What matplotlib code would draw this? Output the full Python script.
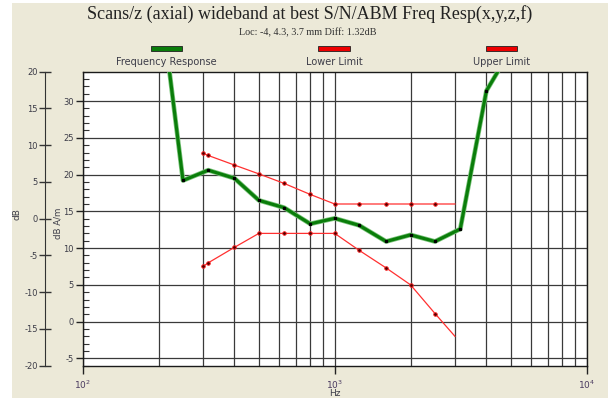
import matplotlib
matplotlib.use("Agg")
import matplotlib.pyplot as plt
from matplotlib.patches import Rectangle
from matplotlib.ticker import MultipleLocator, FixedLocator, LogFormatterMathtext, NullFormatter

plt.rcParams["axes.unicode_minus"] = False

# Frequency response (dB A/m) at third-octave centres
resp_freq = [200, 250, 315, 400, 500, 630, 800, 1000, 1250, 1600, 2000, 2500, 3150, 4000, 5000]
resp_val = [46.0, 19.2, 20.6, 19.5, 16.5, 15.5, 13.3, 14.05, 13.1, 10.9, 11.8, 10.9, 12.6, 31.4, 37.0]

# Limit curves
limit_freq = [300, 315, 400, 500, 630, 800, 1000, 1250, 1600, 2000, 2500, 3000]
upper_val = [22.9, 22.6, 21.3, 20.1, 18.8, 17.3, 16.0, 16.0, 16.0, 16.0, 16.0, 16.0]
lower_val = [7.5, 8.0, 10.1, 12.0, 12.0, 12.0, 12.0, 9.7, 7.3, 5.0, 1.1, -2.0]

legend_names = ["Frequency Response", "Lower Limit", "Upper Limit"]
legend_colors = ["#0a7d0a", "#ee0000", "#ee0000"]

W, H = 611, 401
BEIGE = "#ECE9D8"
TXT = "#3c3c48"

fig = plt.figure(figsize=(W / 100, H / 100), dpi=100, facecolor="white")
fig.add_artist(Rectangle((12 / W, 1 - 398 / H), 596 / W, 395 / H,
                         transform=fig.transFigure, facecolor=BEIGE,
                         edgecolor="none", zorder=-10))

ax = fig.add_axes([82.7 / W, 1 - 365.7 / H, 504 / W, 294 / H])
ax.set_facecolor("white")

ax.plot(limit_freq, upper_val, color="#ff3030", lw=0.9, zorder=3,
        marker="o", ms=2.6, mfc="#500000", mec="#ff2020", mew=0.6,
        markevery=list(range(len(limit_freq) - 1)))
ax.plot(limit_freq, lower_val, color="#ff3030", lw=0.9, zorder=3,
        marker="o", ms=2.6, mfc="#500000", mec="#ff2020", mew=0.6,
        markevery=list(range(len(limit_freq) - 1)))
ax.plot(resp_freq, resp_val, color="#7cc47c", lw=3.4, zorder=4, solid_joinstyle="round")
ax.plot(resp_freq, resp_val, color="#0a7d0a", lw=2.3, zorder=5,
        marker="s", ms=1.4, mfc="black", mec="black", solid_joinstyle="round")

ax.set_xscale("log")
ax.set_xlim(100, 10000)
ax.set_ylim(-6, 34)

ax.xaxis.set_major_locator(FixedLocator([100, 1000, 10000]))
ax.xaxis.set_major_formatter(LogFormatterMathtext())
ax.xaxis.set_minor_formatter(NullFormatter())
ax.yaxis.set_major_locator(MultipleLocator(5))
ax.yaxis.set_minor_locator(MultipleLocator(1))
ax.set_yticks(range(-5, 31, 5))

ax.grid(which="both", axis="x", color="#3a3a3a", lw=0.9)
ax.grid(which="major", axis="y", color="#3a3a3a", lw=0.9)

ax.tick_params(axis="y", which="major", direction="out", length=5, width=1,
               pad=1.5, labelsize=6, labelcolor=TXT, color="#222222")
ax.tick_params(axis="y", which="minor", direction="in", length=4.5, width=0.8,
               color="#333333")
ax.tick_params(axis="x", which="major", direction="out", length=6, width=1,
               pad=3, labelsize=6.5, labelcolor="#4a3a60", color="#222222")
ax.tick_params(axis="x", which="minor", length=0)
for s in ax.spines.values():
    s.set_color("#1a1a1a")
    s.set_linewidth(1)

# outer dB scale
ax2 = ax.twinx()
ax2.set_ylim(-20, 20)
ax2.yaxis.tick_left()
ax2.spines["left"].set_position(("axes", (45 - 82.7) / 504))
ax2.spines["left"].set_visible(True)
ax2.spines["left"].set_color("#333333")
for side in ["right", "top", "bottom"]:
    ax2.spines[side].set_visible(False)
ax2.yaxis.set_major_locator(MultipleLocator(5))
ax2.tick_params(axis="y", which="major", direction="inout", length=8, width=1,
                pad=1, labelsize=6, labelcolor=TXT, color="#333333")

# titles
fig.text(310 / W, 1 - 19.3 / H, "Scans/z (axial) wideband at best S/N/ABM Freq Resp(x,y,z,f)",
         ha="center", va="baseline", fontsize=13, family="Liberation Serif", color="#222222")
fig.text(308 / W, 1 - 35 / H, "Loc: -4, 4.3, 3.7 mm Diff: 1.32dB",
         ha="center", va="baseline", fontsize=7.3, family="Liberation Serif", color="#333333")

# legend swatches
legend_x = [166.7, 334.0, 501.5]
for name, col, cx in zip(legend_names, legend_colors, legend_x):
    fig.add_artist(Rectangle(((cx - 15.8) / W, 1 - 51 / H), 31.6 / W, 5.3 / H,
                             transform=fig.transFigure, facecolor=col,
                             edgecolor="#202020", lw=0.6))
    fig.text(cx / W, 1 - 62.3 / H, name, ha="center", va="center",
             fontsize=7, color=TXT)

# axis labels
fig.text(17.3 / W, 1 - 213.7 / H, "dB", rotation=90, ha="center", va="center",
         fontsize=6.5, color=TXT)
fig.text(58.3 / W, 1 - 223.7 / H, "dB A/m", rotation=90, ha="center", va="center",
         fontsize=6.2, color=TXT)
fig.text(334.6 / W, 1 - 394 / H, "Hz", ha="center", va="center",
         fontsize=6.5, color=TXT)

fig.savefig("out.png", dpi=100, facecolor=fig.get_facecolor())
